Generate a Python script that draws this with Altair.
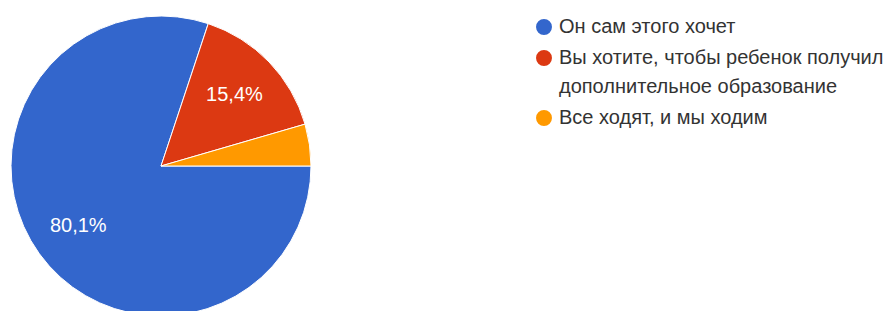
import math
import altair as alt
import pandas as pd

categories = [
    "Он сам этого хочет",
    "Вы хотите, чтобы ребенок получил|дополнительное образование",
    "Все ходят, и мы ходим",
]
values = [80.1, 15.4, 4.5]
slice_labels = ["80,1%", "15,4%", ""]
colors = ["#3366cc", "#dc3912", "#ff9900"]

df = pd.DataFrame({
    "cat": categories,
    "value": values,
    "label": slice_labels,
    "idx": list(range(len(categories))),
})

FONT = "Liberation Sans"
start = math.pi / 2

theta = alt.Theta("value:Q", stack=True,
                  scale=alt.Scale(range=[start, start + 2 * math.pi]))

pie = alt.Chart(df).mark_arc(outerRadius=150, stroke="white", strokeWidth=1).encode(
    theta=theta,
    color=alt.Color(
        "cat:N",
        scale=alt.Scale(domain=categories, range=colors),
        legend=alt.Legend(
            title=None,
            orient="none",
            legendX=526,
            legendY=9,
            symbolType="circle",
            symbolSize=254,
            symbolStrokeWidth=0,
            labelFont=FONT,
            labelFontSize=20,
            labelColor="#333333",
            labelLimit=500,
            labelOffset=5,
            rowPadding=11,
            padding=0,
            labelExpr="split(datum.label, '|')",
        ),
    ),
    order=alt.Order("idx:Q"),
)

text = alt.Chart(df).mark_text(radius=102, font=FONT, fontSize=20, color="white").encode(
    theta=theta,
    text="label:N",
    order=alt.Order("idx:Q"),
)

chart = alt.layer(pie, text).properties(
    width=306, height=316,
    padding={"left": 0, "top": 0, "right": 569, "bottom": 0},
    autosize=alt.AutoSizeParams(type="none"),
).configure(style={"guide-label": {"lineHeight": 29}}).configure_view(stroke=None)

chart.save("out.html", embed_options={"renderer": "svg", "actions": False})
